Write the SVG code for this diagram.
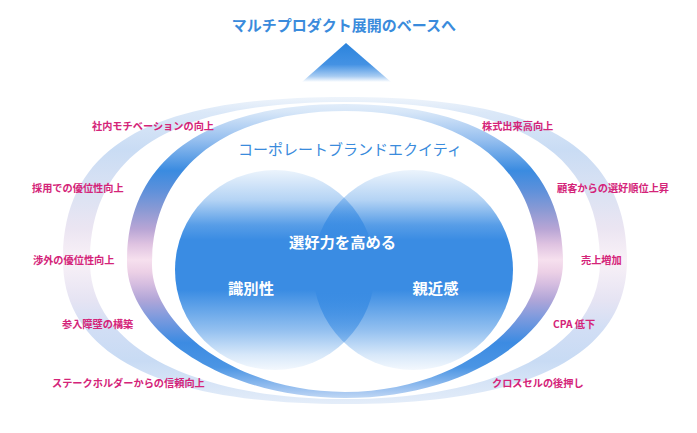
<svg xmlns="http://www.w3.org/2000/svg" width="697" height="433" viewBox="0 0 697 433">
<style>
.lbl{font-family:"Noto Sans CJK JP","Noto Sans",sans-serif;font-size:10.2px;font-weight:bold;fill:#d42479}
.ttl{font-family:"Noto Sans CJK JP","Noto Sans",sans-serif;font-size:15px;fill:#3a8bdc;text-anchor:middle}
.ctx{font-family:"Noto Sans CJK JP","Noto Sans",sans-serif;font-size:15.3px;font-weight:bold;fill:#ffffff;text-anchor:middle}
</style>
<defs>
<linearGradient id="gTri" x1="0" y1="0" x2="0" y2="1">
<stop offset="0" stop-color="#2a83dc"/>
<stop offset="0.55" stop-color="#3a8ce2" stop-opacity="0.95"/>
<stop offset="0.85" stop-color="#3a8ce2" stop-opacity="0.45"/>
<stop offset="1" stop-color="#3a8ce2" stop-opacity="0"/>
</linearGradient>
<linearGradient id="gCirc" x1="0" y1="0" x2="0" y2="1">
<stop offset="0" stop-color="#3a8ce3" stop-opacity="0.1"/>
<stop offset="0.15" stop-color="#3a8ce3" stop-opacity="0.38"/>
<stop offset="0.275" stop-color="#3a8ce3" stop-opacity="0.85"/>
<stop offset="0.35" stop-color="#3a8ce3" stop-opacity="1"/>
<stop offset="0.6" stop-color="#3a8ce3" stop-opacity="1"/>
<stop offset="0.8" stop-color="#3a8ce3" stop-opacity="0.55"/>
<stop offset="0.925" stop-color="#3a8ce3" stop-opacity="0.2"/>
<stop offset="1" stop-color="#3a8ce3" stop-opacity="0.06"/>
</linearGradient>
<linearGradient id="gInner" gradientUnits="userSpaceOnUse" x1="0" y1="97" x2="0" y2="404">
<stop offset="0" stop-color="#eaf2fb"/>
<stop offset="0.05" stop-color="#d6e6f8"/>
<stop offset="0.14" stop-color="#96bfef"/>
<stop offset="0.24" stop-color="#3a8be0"/>
<stop offset="0.30" stop-color="#5b90db"/>
<stop offset="0.37" stop-color="#8c9ad4"/>
<stop offset="0.43" stop-color="#b8a5d5"/>
<stop offset="0.48" stop-color="#dfc3e1"/>
<stop offset="0.53" stop-color="#f6e0ee"/>
<stop offset="0.57" stop-color="#ecd0e6"/>
<stop offset="0.61" stop-color="#d5bde0"/>
<stop offset="0.66" stop-color="#b1a6d8"/>
<stop offset="0.72" stop-color="#7c9ade"/>
<stop offset="0.80" stop-color="#3c8be2"/>
<stop offset="0.88" stop-color="#4b95e4"/>
<stop offset="0.96" stop-color="#a7c8f1"/>
<stop offset="1" stop-color="#d6e5f8"/>
</linearGradient>
<linearGradient id="gOuter" gradientUnits="userSpaceOnUse" x1="0" y1="97" x2="0" y2="404">
<stop offset="0" stop-color="#eef4fb"/>
<stop offset="0.05" stop-color="#dbe8f8"/>
<stop offset="0.17" stop-color="#c9dcf4"/>
<stop offset="0.33" stop-color="#dde3f3"/>
<stop offset="0.43" stop-color="#ebe5f2"/>
<stop offset="0.53" stop-color="#f9f1f7"/>
<stop offset="0.66" stop-color="#e6e4f3"/>
<stop offset="0.76" stop-color="#d1def5"/>
<stop offset="0.86" stop-color="#c8dbf4"/>
<stop offset="1" stop-color="#e4edf9"/>
</linearGradient>
</defs>
<rect width="697" height="433" fill="#ffffff"/>
<g id="title">
<text class="ttl" x="344" y="30.5" style="font-weight:bold">マルチプロダクト展開のベースへ</text>
</g>
<g id="arrow">
<polygon points="346,43 391,82 302,82" fill="url(#gTri)"/>
</g>
<g id="outer-band">
<path fill="url(#gOuter)" fill-rule="evenodd" d="M345,97 C170,97 63,135 63,260 C63,360 170,404 345,404 C520,404 627,360 627,260 C627,135 520,97 345,97 Z M345,102 C185,102 90,145 90,262 C90,345 190,399 345,399 C500,399 600,345 600,262 C600,145 505,102 345,102 Z"/>
</g>
<g id="inner-band">
<path fill="url(#gInner)" fill-rule="evenodd" d="M345,104 C220,104 127,150 127,262 C127,330 220,398 345,398 C470,398 563,330 563,262 C563,150 470,104 345,104 Z M345,111 C235,111 152,160 152,265 C152,325 235,392 345,392 C455,392 538,325 538,265 C538,160 455,111 345,111 Z"/>
</g>
<g id="brand-equity">
<text class="ttl" x="350" y="155">コーポレートブランドエクイティ</text>
</g>
<g id="circle-left">
<circle cx="275" cy="270" r="100" fill="url(#gCirc)"/>
</g>
<g id="circle-right">
<circle cx="413" cy="270" r="100" fill="url(#gCirc)"/>
</g>
<g id="circle-texts">
<text class="ctx" x="342.5" y="247.5">選好力を高める</text>
<text class="ctx" x="251" y="293.5">識別性</text>
<text class="ctx" x="435.5" y="293.5">親近感</text>
</g>
<g id="labels-left">
<text class="lbl" x="92" y="129.5">社内モチベーションの向上</text>
<text class="lbl" x="32" y="191.5">採用での優位性向上</text>
<text class="lbl" x="33" y="263.5">渉外の優位性向上</text>
<text class="lbl" x="62" y="328">参入障壁の構築</text>
<text class="lbl" x="52" y="387">ステークホルダーからの信頼向上</text>
</g>
<g id="labels-right">
<text class="lbl" x="482" y="129.5">株式出来高向上</text>
<text class="lbl" x="557" y="191.5">顧客からの選好順位上昇</text>
<text class="lbl" x="581" y="263.5">売上増加</text>
<text class="lbl" x="553" y="328">CPA 低下</text>
<text class="lbl" x="492" y="387">クロスセルの後押し</text>
</g>
<g id="connectors"></g>
</svg>
